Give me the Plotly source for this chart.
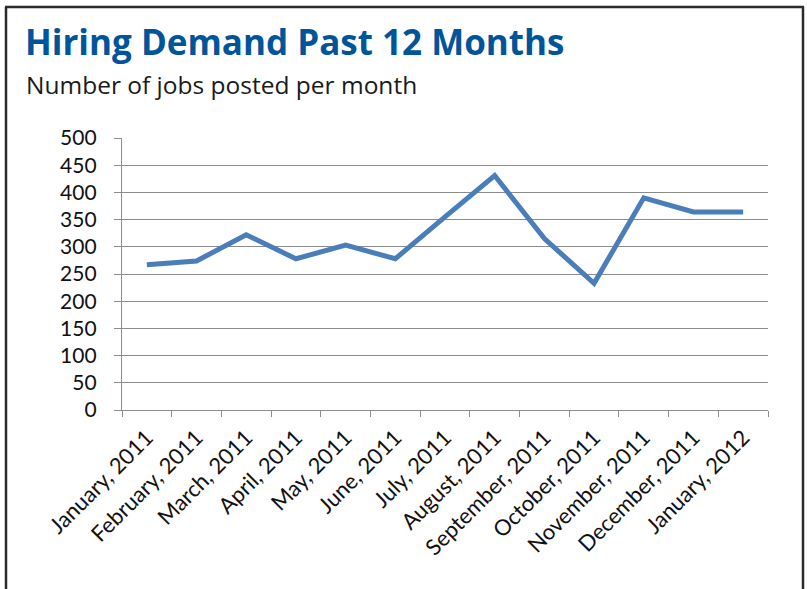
import plotly.graph_objects as go

months = ["January, 2011", "February, 2011", "March, 2011", "April, 2011", "May, 2011",
          "June, 2011", "July, 2011", "August, 2011", "September, 2011", "October, 2011",
          "November, 2011", "December, 2011", "January, 2012"]
jobs_posted = [267, 274, 322, 278, 303, 278, 355, 431, 315, 233, 390, 364, 364]
y_ticks = [0, 50, 100, 150, 200, 250, 300, 350, 400, 450, 500]

title_text = "Hiring Demand Past 12 Months"
subtitle_text = "Number of jobs posted per month"

W, H = 807, 589
L, R, T, B = 122, 39, 138, 179
pw, ph = W - L - R, H - T - B

def px(x):
    return (x - L) / pw

def py(y):
    return (H - B - y) / ph

fig = go.Figure()
fig.add_trace(go.Scatter(
    x=months, y=jobs_posted, mode="lines",
    line=dict(color="#4A7EBB", width=5),
    hoverinfo="x+y",
))

grid = "#8C8C8C"
fig.update_layout(
    width=W, height=H,
    margin=dict(l=L, r=R, t=T, b=B, pad=0),
    paper_bgcolor="white", plot_bgcolor="white",
    showlegend=False,
    font=dict(family="Lato, Open Sans, sans-serif", color="#111111", size=19),
    xaxis=dict(
        type="category", range=[-0.5, len(months) - 0.5],
        tickangle=-45, tickson="boundaries", ticks="outside", ticklen=6,
        tickcolor=grid, tickwidth=1.3, showline=True, linecolor=grid, linewidth=1.3,
        showgrid=False, zeroline=False, ticklabelstandoff=5,
        tickfont=dict(size=22, family="Lato, sans-serif", color="#111111"),
    ),
    yaxis=dict(
        range=[0, 500], tickvals=y_ticks, ticks="outside", ticklen=7,
        tickcolor=grid, tickwidth=1.3, showline=True, linecolor=grid, linewidth=1.3,
        showgrid=True, gridcolor=grid, gridwidth=1.3, zeroline=False,
        ticklabelstandoff=13,
        tickfont=dict(size=21, family="Lato, sans-serif", color="#111111"),
    ),
    annotations=[
        dict(text="<b>" + title_text + "</b>", xref="paper", yref="paper",
             x=px(23), y=py(42), xanchor="left", yanchor="middle", showarrow=False,
             font=dict(family="Open Sans, sans-serif", size=35, color="#00559A")),
        dict(text=subtitle_text, xref="paper", yref="paper",
             x=px(24), y=py(84), xanchor="left", yanchor="middle", showarrow=False,
             font=dict(family="Open Sans, sans-serif", size=24.5, color="#1A1A1A")),
    ],
    shapes=[
        dict(type="line", xref="paper", yref="paper", x0=px(6), x1=px(6), y0=py(7), y1=py(600),
             line=dict(color="#2B2B2B", width=2.5)),
        dict(type="line", xref="paper", yref="paper", x0=px(5), x1=px(804), y0=py(7), y1=py(7),
             line=dict(color="#2B2B2B", width=2.5)),
        dict(type="line", xref="paper", yref="paper", x0=px(803), x1=px(803), y0=py(7), y1=py(600),
             line=dict(color="#2B2B2B", width=2.5)),
    ],
)

fig.write_html("out.html", config={"displayModeBar": False},
               post_script="document.body.style.margin='0';document.body.style.overflow='hidden';")
